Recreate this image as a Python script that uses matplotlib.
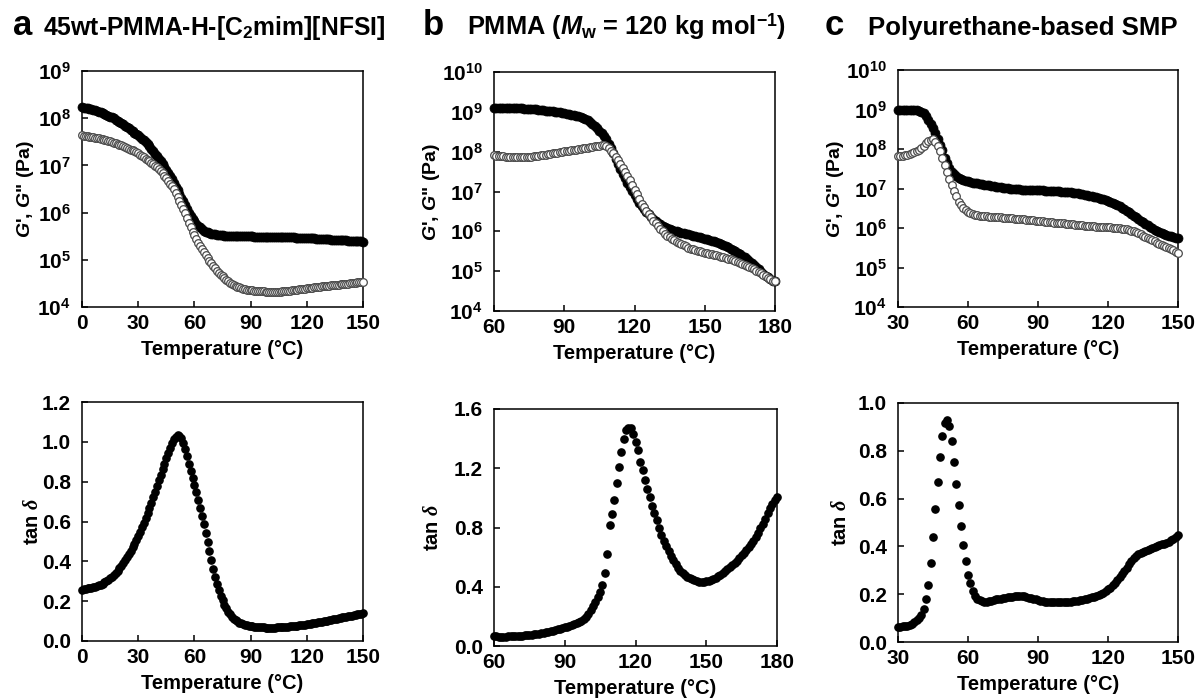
import numpy as np
import matplotlib
matplotlib.use("Agg")
import matplotlib.pyplot as plt
from matplotlib.ticker import NullLocator, FormatStrFormatter

plt.rcParams['font.family'] = ['Liberation Sans', 'DejaVu Sans']
plt.rcParams['font.weight'] = 'bold'
plt.rcParams['mathtext.fontset'] = 'custom'
plt.rcParams['mathtext.rm'] = 'Liberation Sans'
plt.rcParams['mathtext.bf'] = 'Liberation Sans:bold'
plt.rcParams['mathtext.it'] = 'Liberation Serif:italic'
plt.rcParams['mathtext.bfit'] = 'Liberation Sans:italic:bold'

# ---- panel a: 45wt-PMMA-H-[C2mim][NFSI], 0-150 C, 1 C steps ----
temp_a = list(range(0, 151))
logG1_a = [8.23, 8.225, 8.22, 8.21, 8.20, 8.19, 8.18, 8.165, 8.155, 8.14,
           8.125, 8.11, 8.09, 8.07, 8.05, 8.035, 8.015, 7.995, 7.97, 7.945,
           7.92, 7.895, 7.87, 7.84, 7.81, 7.785, 7.757, 7.727, 7.696, 7.665,
           7.635, 7.602, 7.567, 7.531, 7.494, 7.455, 7.404, 7.352, 7.299, 7.246,
           7.193, 7.14, 7.083, 7.025, 6.967, 6.907, 6.839, 6.771, 6.702, 6.629,
           6.551, 6.473, 6.396, 6.318, 6.24, 6.161, 6.081, 6.001, 5.921, 5.864,
           5.815, 5.766, 5.719, 5.686, 5.653, 5.62, 5.598, 5.582, 5.566, 5.55,
           5.544, 5.538, 5.532, 5.526, 5.52, 5.516, 5.513, 5.51, 5.507, 5.505,
           5.503, 5.501, 5.5, 5.499, 5.498, 5.497, 5.496, 5.496, 5.495, 5.495,
           5.494, 5.494, 5.493, 5.493, 5.492, 5.492, 5.491, 5.491, 5.49, 5.49,
           5.489, 5.488, 5.487, 5.486, 5.485, 5.484, 5.483, 5.482, 5.481, 5.48,
           5.478, 5.477, 5.475, 5.474, 5.472, 5.47, 5.468, 5.466, 5.464, 5.462,
           5.46, 5.458, 5.456, 5.454, 5.452, 5.45, 5.447, 5.445, 5.442, 5.44,
           5.437, 5.435, 5.432, 5.43, 5.427, 5.425, 5.422, 5.42, 5.417, 5.415,
           5.412, 5.41, 5.407, 5.405, 5.402, 5.40, 5.397, 5.395, 5.392, 5.39,
           5.387]
logG2_a = [7.636, 7.629, 7.622, 7.616, 7.609, 7.602, 7.595, 7.588, 7.581, 7.572,
           7.562, 7.552, 7.542, 7.532, 7.523, 7.513, 7.5, 7.485, 7.47, 7.455,
           7.44, 7.426, 7.411, 7.394, 7.375, 7.355, 7.336, 7.316, 7.297, 7.277,
           7.256, 7.228, 7.2, 7.172, 7.145, 7.117, 7.089, 7.056, 7.023, 6.99,
           6.957, 6.924, 6.88, 6.832, 6.783, 6.733, 6.675, 6.616, 6.557, 6.49,
           6.412, 6.334, 6.248, 6.16, 6.073, 5.985, 5.885, 5.785, 5.685, 5.597,
           5.52, 5.442, 5.366, 5.298, 5.23, 5.161, 5.098, 5.04, 4.981, 4.923,
           4.872, 4.822, 4.771, 4.726, 4.687, 4.648, 4.609, 4.576, 4.546, 4.516,
           4.49, 4.47, 4.451, 4.432, 4.416, 4.403, 4.389, 4.376, 4.37, 4.364,
           4.358, 4.352, 4.347, 4.341, 4.335, 4.333, 4.331, 4.329, 4.327, 4.325,
           4.323, 4.321, 4.321, 4.322, 4.324, 4.326, 4.328, 4.331, 4.334, 4.338,
           4.343, 4.348, 4.353, 4.358, 4.363, 4.367, 4.372, 4.378, 4.384, 4.39,
           4.396, 4.402, 4.408, 4.413, 4.417, 4.422, 4.426, 4.431, 4.435, 4.44,
           4.445, 4.449, 4.454, 4.458, 4.463, 4.467, 4.471, 4.475, 4.479, 4.483,
           4.487, 4.491, 4.496, 4.501, 4.506, 4.511, 4.516, 4.521, 4.526, 4.531,
           4.536]
tand_a = [0.255, 0.26, 0.262, 0.265, 0.267, 0.268, 0.27, 0.272, 0.275, 0.279,
          0.283, 0.288, 0.294, 0.30, 0.307, 0.315, 0.323, 0.332, 0.342, 0.353,
          0.365, 0.378, 0.392, 0.406, 0.421, 0.437, 0.453, 0.47, 0.488, 0.507,
          0.527, 0.548, 0.57, 0.593, 0.617, 0.642, 0.668, 0.695, 0.722, 0.75,
          0.778, 0.806, 0.834, 0.862, 0.89, 0.918, 0.945, 0.97, 0.993, 1.012,
          1.025, 1.032, 1.03, 1.018, 0.995, 0.962, 0.928, 0.89, 0.855, 0.82,
          0.785, 0.748, 0.71, 0.67, 0.628, 0.585, 0.54, 0.495, 0.45, 0.405,
          0.362, 0.322, 0.286, 0.255, 0.228, 0.204, 0.183, 0.164, 0.148, 0.134,
          0.122, 0.112, 0.104, 0.098, 0.092, 0.088, 0.084, 0.081, 0.078, 0.076,
          0.074, 0.073, 0.072, 0.071, 0.07, 0.069, 0.068, 0.068, 0.067, 0.067,
          0.067, 0.067, 0.067, 0.067, 0.068, 0.068, 0.069, 0.069, 0.07, 0.071,
          0.072, 0.073, 0.074, 0.075, 0.076, 0.077, 0.078, 0.079, 0.08, 0.082,
          0.083, 0.085, 0.086, 0.088, 0.089, 0.091, 0.093, 0.094, 0.096, 0.098,
          0.1, 0.102, 0.104, 0.106, 0.108, 0.11, 0.112, 0.114, 0.116, 0.118,
          0.12, 0.122, 0.124, 0.126, 0.128, 0.13, 0.132, 0.134, 0.136, 0.138,
          0.14]

# ---- panel b: PMMA, 60-180 C ----
temp_b = list(range(60, 181))
logG1_b = [9.084, 9.088, 9.092, 9.095, 9.098, 9.1, 9.1, 9.1, 9.098, 9.096,
           9.093, 9.09, 9.086, 9.082, 9.078, 9.074, 9.069, 9.064, 9.059, 9.053,
           9.047, 9.04, 9.033, 9.026, 9.018, 9.01, 9.002, 8.993, 8.984, 8.975,
           8.965, 8.955, 8.944, 8.933, 8.92, 8.906, 8.89, 8.872, 8.852, 8.83,
           8.79, 8.745, 8.697, 8.645, 8.59, 8.53, 8.46, 8.39, 8.31, 8.2,
           8.09, 7.96, 7.82, 7.69, 7.57, 7.45, 7.33, 7.22, 7.12, 7.02,
           6.91, 6.81, 6.71, 6.63, 6.56, 6.49, 6.43, 6.37, 6.315, 6.265,
           6.22, 6.18, 6.145, 6.112, 6.085, 6.06, 6.038, 6.018, 6.0, 5.983,
           5.967, 5.952, 5.937, 5.923, 5.909, 5.895, 5.88, 5.866, 5.851, 5.836,
           5.82, 5.803, 5.785, 5.766, 5.746, 5.725, 5.702, 5.678, 5.653, 5.626,
           5.598, 5.568, 5.536, 5.502, 5.466, 5.428, 5.388, 5.346, 5.302, 5.256,
           5.208, 5.158, 5.106, 5.052, 4.99, 4.94, 4.89, 4.85, 4.805, 4.765,
           4.745]
logG2_b = [7.905, 7.898, 7.891, 7.885, 7.879, 7.874, 7.869, 7.865, 7.862, 7.86,
           7.859, 7.859, 7.86, 7.863, 7.867, 7.872, 7.878, 7.885, 7.892, 7.9,
           7.908, 7.917, 7.927, 7.937, 7.947, 7.957, 7.967, 7.977, 7.987, 7.997,
           8.007, 8.017, 8.027, 8.036, 8.045, 8.054, 8.063, 8.072, 8.08, 8.09,
           8.1, 8.11, 8.12, 8.13, 8.14, 8.152, 8.165, 8.175, 8.15, 8.1,
           8.02, 7.955, 7.87, 7.79, 7.7, 7.6, 7.5, 7.39, 7.28, 7.165,
           7.045, 6.925, 6.8, 6.69, 6.61, 6.52, 6.43, 6.35, 6.27, 6.2,
           6.13, 6.06, 6.0, 5.945, 5.895, 5.85, 5.81, 5.77, 5.735, 5.703,
           5.673, 5.645, 5.62, 5.59, 5.568, 5.548, 5.528, 5.51, 5.494, 5.478,
           5.463, 5.448, 5.434, 5.42, 5.407, 5.394, 5.381, 5.367, 5.353, 5.338,
           5.31, 5.294, 5.277, 5.257, 5.235, 5.212, 5.187, 5.161, 5.134, 5.106,
           5.077, 5.046, 5.014, 4.98, 4.945, 4.908, 4.869, 4.829, 4.795, 4.765,
           4.745]
tand_b = [0.065, 0.065, 0.064, 0.064, 0.064, 0.064, 0.065, 0.065, 0.066, 0.067,
          0.068, 0.069, 0.07, 0.071, 0.073, 0.075, 0.077, 0.079, 0.081, 0.083,
          0.086, 0.089, 0.092, 0.095, 0.099, 0.103, 0.107, 0.112, 0.116, 0.121,
          0.126, 0.131, 0.137, 0.143, 0.15, 0.157, 0.164, 0.172, 0.181, 0.195,
          0.215, 0.24, 0.27, 0.30, 0.33, 0.362, 0.415, 0.49, 0.62, 0.82,
          0.89, 0.987, 1.1, 1.21, 1.31, 1.396, 1.46, 1.475, 1.47, 1.434,
          1.38, 1.322, 1.245, 1.19, 1.123, 1.062, 1.003, 0.946, 0.895, 0.848,
          0.80, 0.752, 0.71, 0.674, 0.641, 0.609, 0.58, 0.553, 0.529, 0.508,
          0.491, 0.477, 0.466, 0.457, 0.449, 0.443, 0.438, 0.435, 0.434, 0.434,
          0.437, 0.441, 0.447, 0.453, 0.461, 0.47, 0.481, 0.492, 0.504, 0.518,
          0.532, 0.547, 0.562, 0.577, 0.594, 0.612, 0.63, 0.65, 0.67, 0.69,
          0.71, 0.735, 0.763, 0.795, 0.826, 0.86, 0.895, 0.93, 0.96, 0.985,
          1.005]

# ---- panel c: polyurethane-based SMP, 30-150 C ----
temp_c = list(range(30, 151))
logG1_c = [9.0, 9.0, 9.0, 9.0, 9.0, 8.998, 8.995, 8.99, 8.982, 8.967,
           8.945, 8.905, 8.83, 8.73, 8.63, 8.53, 8.4, 8.26, 8.11, 7.97,
           7.78, 7.64, 7.53, 7.43, 7.36, 7.31, 7.27, 7.24, 7.215, 7.195,
           7.178, 7.163, 7.15, 7.138, 7.127, 7.117, 7.107, 7.097, 7.087, 7.077,
           7.067, 7.058, 7.049, 7.04, 7.031, 7.022, 7.013, 7.005, 6.998, 6.992,
           6.987, 6.982, 6.978, 6.974, 6.97, 6.967, 6.964, 6.962, 6.96, 6.958,
           6.956, 6.954, 6.952, 6.949, 6.946, 6.943, 6.94, 6.936, 6.932, 6.927,
           6.922, 6.917, 6.911, 6.905, 6.899, 6.892, 6.885, 6.877, 6.868, 6.858,
           6.847, 6.835, 6.822, 6.808, 6.793, 6.777, 6.76, 6.742, 6.723, 6.703,
           6.682, 6.66, 6.637, 6.612, 6.584, 6.553, 6.518, 6.48, 6.44, 6.398,
           6.355, 6.312, 6.27, 6.228, 6.187, 6.147, 6.108, 6.07, 6.033, 5.997,
           5.962, 5.93, 5.9, 5.872, 5.847, 5.825, 5.805, 5.787, 5.77, 5.752,
           5.735]
logG2_c = [7.82, 7.825, 7.832, 7.84, 7.852, 7.868, 7.89, 7.915, 7.945, 7.98,
           8.025, 8.08, 8.14, 8.19, 8.23, 8.244, 8.18, 8.07, 7.955, 7.78,
           7.6, 7.42, 7.24, 7.09, 6.94, 6.8, 6.67, 6.57, 6.495, 6.445,
           6.405, 6.372, 6.35, 6.335, 6.322, 6.312, 6.305, 6.299, 6.294, 6.289,
           6.284, 6.28, 6.276, 6.272, 6.268, 6.265, 6.261, 6.257, 6.252, 6.246,
           6.24, 6.234, 6.228, 6.222, 6.216, 6.21, 6.204, 6.198, 6.192, 6.186,
           6.18, 6.174, 6.168, 6.162, 6.156, 6.15, 6.144, 6.138, 6.132, 6.127,
           6.121, 6.115, 6.109, 6.103, 6.097, 6.091, 6.085, 6.079, 6.073, 6.067,
           6.061, 6.055, 6.049, 6.044, 6.04, 6.036, 6.032, 6.028, 6.024, 6.02,
           6.017, 6.014, 6.01, 6.005, 6.0, 5.994, 5.986, 5.977, 5.966, 5.952,
           5.935, 5.915, 5.893, 5.867, 5.84, 5.81, 5.78, 5.75, 5.72, 5.69,
           5.66, 5.632, 5.605, 5.578, 5.552, 5.526, 5.498, 5.468, 5.436, 5.402,
           5.365]
tand_c = [0.063, 0.064, 0.065, 0.066, 0.068, 0.071, 0.076, 0.083, 0.091, 0.102,
          0.115, 0.14, 0.18, 0.24, 0.33, 0.44, 0.558, 0.67, 0.775, 0.86,
          0.915, 0.928, 0.905, 0.84, 0.755, 0.66, 0.572, 0.484, 0.404, 0.341,
          0.28, 0.245, 0.212, 0.192, 0.181, 0.175, 0.171, 0.169, 0.169, 0.171,
          0.173, 0.175, 0.178, 0.18, 0.182, 0.184, 0.186, 0.188, 0.189, 0.19,
          0.191, 0.192, 0.192, 0.192, 0.191, 0.189, 0.186, 0.184, 0.181, 0.178,
          0.175, 0.173, 0.171, 0.169, 0.168, 0.167, 0.167, 0.167, 0.167, 0.168,
          0.168, 0.168, 0.168, 0.169, 0.169, 0.17, 0.171, 0.172, 0.174, 0.176,
          0.178, 0.181, 0.184, 0.187, 0.19, 0.193, 0.197, 0.202, 0.207, 0.213,
          0.22, 0.228, 0.237, 0.247, 0.258, 0.27, 0.283, 0.297, 0.311, 0.325,
          0.338, 0.35, 0.36, 0.368, 0.374, 0.378, 0.382, 0.386, 0.39, 0.394,
          0.398, 0.402, 0.405, 0.408, 0.411, 0.414, 0.419, 0.426, 0.433, 0.44,
          0.447]

W, H = 1198, 700
fig = plt.figure(figsize=(W / 100, H / 100), dpi=100)


def box(l, t, r, b):
    return fig.add_axes([l / W, 1 - b / H, (r - l) / W, (b - t) / H])


def style(ax):
    for s in ax.spines.values():
        s.set_linewidth(1.1)
    ax.tick_params(direction='in', length=4, width=1.1, labelsize=15)
    ax.xaxis.set_tick_params(pad=5)
    ax.yaxis.set_tick_params(pad=8)
    for lab in ax.get_xticklabels() + ax.get_yticklabels():
        lab.set_fontweight('bold')
    ax.set_xlabel('Temperature (°C)', fontsize=14.5, fontweight='bold', labelpad=5)


def modulus(ax, T, g1, g2, xlim, xticks, ymax, ylab_x):
    ax.plot(T, 10 ** np.array(g1), 'o', ms=6.5, mfc='black', mec='black', mew=0.5,
            ls='none', clip_on=False, zorder=3)
    ax.plot(T, 10 ** np.array(g2), 'o', ms=5.5, mfc='white', mec='#4a4a4a', mew=0.9,
            ls='none', clip_on=False, zorder=4)
    ax.set_yscale('log')
    ax.set_ylim(1e4, 10 ** ymax)
    ax.set_xlim(*xlim)
    ax.set_xticks(xticks)
    ax.set_xticklabels([str(v) for v in xticks])
    exps = list(range(4, ymax + 1))
    ax.set_yticks([10.0 ** e for e in exps])
    ax.set_yticklabels([r'$\mathbf{10^{%d}}$' % e for e in exps])
    ax.yaxis.set_minor_locator(NullLocator())
    style(ax)
    ax.set_ylabel("$\\mathbfit{G}$', $\\mathbfit{G}$\" (Pa)", fontsize=14,
                  fontweight='bold', va='center')
    ax.yaxis.set_label_coords(ylab_x, 0.5)


def loss(ax, T, td, xlim, xticks, yticks, ylab_x):
    ax.plot(T, td, 'o', ms=5.2, mfc='black', mec='black', ls='none', clip_on=False)
    ax.set_xlim(*xlim)
    ax.set_ylim(yticks[0], yticks[-1])
    ax.set_xticks(xticks)
    ax.set_yticks(yticks)
    ax.yaxis.set_major_formatter(FormatStrFormatter('%.1f'))
    style(ax)
    ax.set_ylabel(r'tan $\delta$', fontsize=14.5, fontweight='bold', va='center')
    ax.yaxis.set_label_coords(ylab_x, 0.5)


ax1 = box(82, 71, 363, 307)
modulus(ax1, temp_a, logG1_a, logG2_a, (0, 150), [0, 30, 60, 90, 120, 150], 9, (26 - 82) / 281)
ax2 = box(494, 72, 775, 311)
modulus(ax2, temp_b, logG1_b, logG2_b, (60, 180), [60, 90, 120, 150, 180], 10, (431 - 494) / 281)
ax3 = box(898, 70, 1178, 307)
modulus(ax3, temp_c, logG1_c, logG2_c, (30, 150), [30, 60, 90, 120, 150], 10, (836 - 898) / 280)

ax4 = box(82, 402, 363, 641)
loss(ax4, temp_a, tand_a, (0, 150), [0, 30, 60, 90, 120, 150],
     [0, 0.2, 0.4, 0.6, 0.8, 1.0, 1.2], (33 - 82) / 281)
ax5 = box(494, 409, 777, 646)
loss(ax5, temp_b, tand_b, (60, 180), [60, 90, 120, 150, 180],
     [0, 0.4, 0.8, 1.2, 1.6], (433 - 494) / 283)
ax6 = box(898, 403, 1178, 642)
loss(ax6, temp_c, tand_c, (30, 150), [30, 60, 90, 120, 150],
     [0, 0.2, 0.4, 0.6, 0.8, 1.0], (841 - 898) / 280)

# panel letters and titles
ty = 1 - 35 / H
for x, s in [(13, 'a'), (423, 'b'), (825, 'c')]:
    fig.text(x / W, ty, s, fontsize=25, fontweight='bold', va='baseline')
titles = [(43, r'45wt-PMMA-H-[C$_{\mathbf{2}}$mim][NFSI]', 17.8),
          (467, r'PMMA ($\mathbfit{M}_{\mathbf{w}}$ = 120 kg mol$^{\mathbf{-1}}$)', 18.3),
          (868, 'Polyurethane-based SMP', 18.5)]
for x, s, fs in titles:
    fig.text(x / W, ty, s, fontsize=fs, fontweight='bold', va='baseline')

fig.savefig('out.png', dpi=100)
